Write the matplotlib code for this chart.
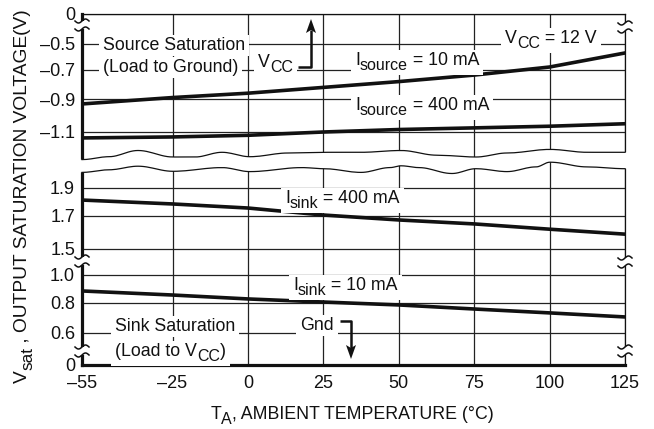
import matplotlib
matplotlib.use('Agg')
import matplotlib.pyplot as plt
import numpy as np
from matplotlib.lines import Line2D
from matplotlib.patches import Polygon, Rectangle
from matplotlib.transforms import Affine2D, IdentityTransform

plt.rcParams['font.family'] = ['Liberation Sans Narrow', 'Liberation Sans', 'DejaVu Sans']

# values
temps = [-55, -25, 0, 25, 50, 75, 100, 125]
src_10ma = [-0.93, -0.89, -0.86, -0.82, -0.78, -0.735, -0.677, -0.569]
src_400ma = [-1.136, -1.13, -1.12, -1.10, -1.085, -1.075, -1.065, -1.05]
sink_400ma = [1.814, 1.786, 1.757, 1.707, 1.676, 1.652, 1.62, 1.59]
sink_10ma = [0.886, 0.857, 0.829, 0.807, 0.787, 0.76, 0.734, 0.707]

x_ticks = [-55, -25, 0, 25, 50, 75, 100, 125]
x_labels = ['\u201355', '\u201325', '0', '25', '50', '75', '100', '125']
top_ticks = [0, -0.5, -0.7, -0.9, -1.1]
top_labels = ['0', '\u20130.5', '\u20130.7', '\u20130.9', '\u20131.1']
bot_ticks = [0, 0.6, 0.8, 1.0, 1.5, 1.7, 1.9]
bot_labels = ['0', '0.6', '0.8', '1.0', '1.5', '1.7', '1.9']

# the datasheet axis is not linear, so the gridlines are pinned to pixel rows
top_knot_v = [-5, -1.27, -1.1, -0.9, -0.7, -0.5, 0, 5]
top_knot_px = [775, 160, 132, 99, 70, 44, 14, -286]
bot_knot_v = [-5, 0, 0.6, 0.8, 1.0, 1.5, 1.7, 1.9, 2.09, 7]
bot_knot_px = [632, 365, 333, 303, 275, 249, 216, 188, 162, -525]

W, H = 654, 429
INK = '#111111'
TXT = 12.8
fig = plt.figure(figsize=(W / 100, H / 100), dpi=100)
pix = Affine2D().scale(1.0 / W, -1.0 / H).translate(0, 1) + fig.transFigure


def piecewise(vals, px):
    vals = np.asarray(vals, float)
    px = np.asarray(px, float)
    fwd = lambda v: -np.interp(v, vals, px)
    inv = lambda p: np.interp(-np.asarray(p, float), -px, vals)
    return fwd, inv


left, right = 82, 625
ax_top = fig.add_axes([left / W, 1 - 160 / H, (right - left) / W, (160 - 14) / H])
ax_bot = fig.add_axes([left / W, 1 - 365 / H, (right - left) / W, (365 - 162) / H])
ax_top.set_yscale('function', functions=piecewise(top_knot_v, top_knot_px))
ax_bot.set_yscale('function', functions=piecewise(bot_knot_v, bot_knot_px))
ax_top.set_ylim(-1.27, 0)
ax_bot.set_ylim(0, 2.09)

for ax in (ax_top, ax_bot):
    ax.set_xlim(-55, 125)
    ax.set_xticks(x_ticks)
    ax.grid(True, color='#222222', lw=0.9)
    ax.tick_params(length=0, labelsize=13, colors=INK)
    ax.spines['left'].set_linewidth(2.3)
    ax.spines['bottom'].set_linewidth(2.3)
    ax.spines['right'].set_linewidth(0.9)
    ax.spines['top'].set_linewidth(0.9)
    for s in ax.spines.values():
        s.set_color(INK)
ax_top.spines['bottom'].set_visible(False)
ax_bot.spines['top'].set_visible(False)
ax_top.tick_params(labelbottom=False)
ax_top.set_yticks(top_ticks, top_labels)
ax_bot.set_yticks(bot_ticks, bot_labels)
ax_bot.set_xticklabels(x_labels)
ax_top.tick_params(axis='y', pad=5)
ax_bot.tick_params(axis='y', pad=5)
ax_bot.tick_params(axis='x', pad=7)

ax_top.plot(temps, src_10ma, color=INK, lw=2.6)
ax_top.plot(temps, src_400ma, color=INK, lw=2.6)
ax_bot.plot(temps, sink_400ma, color=INK, lw=2.6)
ax_bot.plot(temps, sink_10ma, color=INK, lw=2.6)


# wavy break between the source and sink panels
def smooth(xs, ys, n=12):
    ox, oy = [], []
    for i in range(len(xs) - 1):
        t = np.linspace(0, 1, n, endpoint=False)
        ox.extend(xs[i] + (xs[i + 1] - xs[i]) * t)
        oy.extend(ys[i] + (ys[i + 1] - ys[i]) * (1 - np.cos(np.pi * t)) / 2)
    ox.append(xs[-1])
    oy.append(ys[-1])
    return np.array(ox), np.array(oy)


wave_top_x = [82, 109, 138, 173, 195, 222, 250, 288, 324, 361, 401, 437, 476, 507, 550, 587, 625]
wave_top_y = [159.6, 156.7, 150.5, 157, 157, 152.3, 156.7, 153, 152.3, 152.3, 150.5, 155.2, 157, 153, 149.4, 152.3, 152.3]
wave_bot_x = [82, 109, 138, 173, 222, 250, 302, 324, 361, 390, 401, 419, 452, 476, 507, 536, 550, 587, 625]
wave_bot_y = [172.4, 169.8, 166.2, 171.3, 167.6, 171.6, 167.6, 168.7, 172.4, 167.6, 165.8, 167.6, 173.5, 168.7, 171.6, 166.9, 162.2, 166.9, 168.7]

tx, ty = smooth(wave_top_x, wave_top_y)
bx, by = smooth(wave_bot_x, wave_bot_y)
mask = np.vstack([np.column_stack([[78], [ty[0]]]), np.column_stack([tx, ty]),
                  np.column_stack([[629, 629], [ty[-1], by[-1]]]),
                  np.column_stack([bx[::-1], by[::-1]]), np.column_stack([[78], [by[0]]])])
fig.add_artist(Polygon(mask, closed=True, transform=pix, fc='white', ec='none', zorder=4))
fig.add_artist(Line2D(tx, ty, transform=pix, color=INK, lw=0.9, zorder=5))
fig.add_artist(Line2D(bx, by, transform=pix, color=INK, lw=0.9, zorder=5))


def break_mark(cx, cy):
    fig.add_artist(Rectangle((cx - 6, cy - 4), 12, 8, transform=pix, fc='white', ec='none', zorder=8))
    t = np.linspace(-7, 7, 30)
    for dy in (-4, 4):
        fig.add_artist(Line2D(cx + t, cy + dy - 2 * np.sin(t / 7 * np.pi), transform=pix,
                              color=INK, lw=1.1, zorder=9))


for cx, cy in [(82, 25), (82, 261), (82, 351), (625, 27), (625, 262), (625, 351)]:
    break_mark(cx, cy)


# text with same-size subscripts, like the datasheet typesetting
def rich(x, y, parts, size=TXT, box=True, center=False, rotate=False):
    r = fig.canvas.get_renderer()
    items = []
    pos = 0.0
    for s, sub in parts:
        fs = size * 0.9 if sub else size
        off = 5 if sub else 0
        if rotate:
            t = fig.text(x + off, y - pos, s, transform=pix, fontsize=fs, rotation=90,
                         rotation_mode='anchor', ha='left', va='baseline', color=INK, zorder=7)
            pos += t.get_window_extent(r).height
        else:
            t = fig.text(x + pos, y + off, s, transform=pix, fontsize=fs,
                         ha='left', va='baseline', color=INK, zorder=7)
            pos += t.get_window_extent(r).width
        items.append(t)
    if center:
        for t in items:
            px_, py_ = t.get_position()
            if rotate:
                t.set_position((px_, py_ + pos / 2))
            else:
                t.set_position((px_ - pos / 2, py_))
    if box:
        bbs = [t.get_window_extent(r) for t in items]
        x0 = min(b.x0 for b in bbs) - 4
        x1 = max(b.x1 for b in bbs) + 4
        y0 = min(b.y0 for b in bbs) - 2
        y1 = max(b.y1 for b in bbs) + 2
        fig.add_artist(Rectangle((x0, y0), x1 - x0, y1 - y0, transform=IdentityTransform(),
                                 fc='white', ec='none', zorder=6))


rich(103, 50, [('Source Saturation', False)])
rich(103, 72, [('(Load to Ground)', False)])
rich(258, 67, [('V', False), ('CC', True)])
rich(355, 65, [('I', False), ('source', True), (' = 10 mA', False)])
rich(505, 43, [('V', False), ('CC', True), (' = 12 V', False)])
rich(355, 110, [('I', False), ('source', True), (' = 400 mA', False)])
rich(285, 203, [('I', False), ('sink', True), (' = 400 mA', False)])
rich(293, 290, [('I', False), ('sink', True), (' = 10 mA', False)])
rich(115, 331, [('Sink Saturation', False)])
rich(115, 356, [('(Load to V', False), ('CC', True), (')', False)])
rich(300, 330, [('Gnd', False)])

rich(352, 419, [('T', False), ('A', True), (', AMBIENT TEMPERATURE (\u00b0C)', False)],
     box=False, center=True)
rich(27, 196, [('V', False), ('sat', True), (' , OUTPUT SATURATION VOLTAGE(V)', False)],
     size=13.8, box=False, center=True, rotate=True)


# pointer arrows for V_CC and Gnd
def elbow_arrow(pts, tip, up):
    xs, ys = zip(*pts)
    fig.add_artist(Line2D(xs, ys, transform=pix, color=INK, lw=1.8, zorder=7,
                          solid_capstyle='butt'))
    tx_, ty_ = tip
    base = ty_ + 14 if up else ty_ - 14
    fig.add_artist(Polygon([(tx_, ty_), (tx_ - 5, base), (tx_, base - (3 if up else -3)), (tx_ + 5, base)],
                           closed=True, transform=pix, fc=INK, ec='none', zorder=7))


elbow_arrow([(298, 67), (311, 67), (311, 30)], (311, 19), up=True)
elbow_arrow([(340, 321), (351, 321), (351, 348)], (351, 359), up=False)

fig.savefig('out.png', dpi=100)
